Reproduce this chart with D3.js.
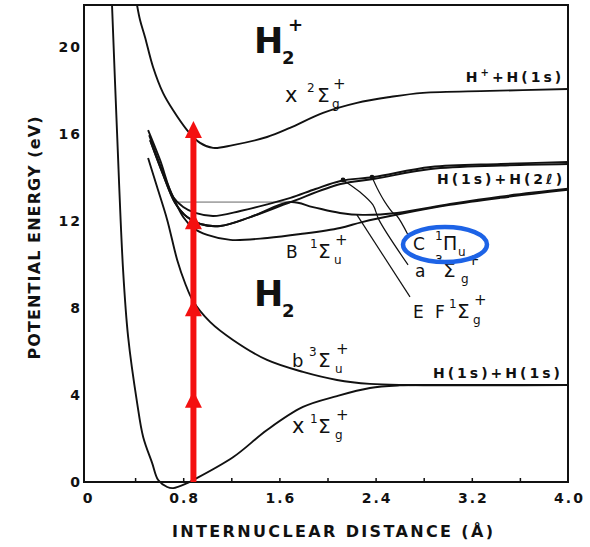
<!DOCTYPE html>
<html>
<head>
<meta charset="utf-8">
<script src="https://cdn.jsdelivr.net/npm/d3@7"></script>
<style>
body { margin: 0; background: #fff; }
text { font-family: "DejaVu Sans", "Liberation Sans", Arial, sans-serif; fill: #111; }
</style>
</head>
<body>
<div id="chart"></div>
<script>
// Potential curves, [R (Å), E (eV)]
var groundX = [[0.208,21.93],[0.25,16.05],[0.30,9.75],[0.342,6.67],[0.417,3.63],[0.467,2.07],[0.542,0.87],
    [0.592,0.09],[0.667,-0.23],[0.717,-0.28],[0.833,-0.05],[0.883,0.09],[1.217,1.15],[1.497,2.39],
    [1.796,3.45],[2.079,3.95],[2.353,4.32],[2.6,4.44],[2.8,4.46],[4.0,4.46]];
var tripletB = [[0.508,14.90],[0.583,13.56],[0.667,12.05],[0.75,10.21],[0.815,9.15],[0.882,8.32],[1.023,7.36],
    [1.214,6.53],[1.497,5.61],[1.796,5.06],[2.079,4.69],[2.353,4.51],[2.66,4.46],[4.0,4.46]];
var ionX = [[0.416,21.93],[0.441,21.24],[0.482,20.46],[0.549,19.08],[0.632,17.89],[0.715,17.10],[0.832,16.18],
    [0.940,15.59],[1.048,15.36],[1.214,15.49],[1.497,15.86],[1.688,16.28],[1.963,16.97],[2.245,17.43],
    [2.52,17.70],[2.794,17.89],[3.351,17.98],[4.0,18.07]];
var singletB = [[0.517,15.95],[0.608,14.57],[0.708,13.20],[0.80,12.18],[0.883,11.68],[1.0,11.36],[1.192,11.13],
    [1.5,11.22],[1.775,11.40],[2.104,11.68],[2.287,11.95],[2.603,12.32],[3.019,12.74],[3.434,13.06],[4.0,13.43]];
var stateC = [[0.508,16.18],[0.608,14.80],[0.717,13.10],[0.80,12.64],[0.90,12.37],[1.05,12.23],[1.275,12.46],
    [1.483,12.74],[1.692,13.06],[1.90,13.47],[2.108,13.84],[2.383,14.02],[2.858,14.48],[3.442,14.62],[4.0,14.71]];
var stateA = [[0.525,15.72],[0.625,14.25],[0.733,12.83],[0.833,12.18],[0.942,11.86],[1.108,11.77],[1.358,12.18],
    [1.692,12.87],[2.108,13.70],[2.383,13.93],[2.858,14.39],[3.442,14.55],[4.0,14.62]];
var stateEF = [[0.525,15.72],[0.625,14.25],[0.733,12.83],[0.833,12.18],[0.942,11.86],[1.108,11.77],[1.358,12.18],
    [1.692,12.87],[1.879,12.64],[2.104,12.37],[2.295,12.28],[2.578,12.37],[3.019,12.78],[3.434,13.12],[4.0,13.48]];
var levelLine = [[0.733,12.87],[1.717,12.87]];

// label leader lines
var leaderA = [[2.129,13.89],[2.270,13.33],[2.378,12.74],[2.428,12.05],[2.670,9.98]];
var leaderC = [[2.370,14.02],[2.412,13.52],[2.478,12.87],[2.545,12.37],[2.578,12.23],[2.670,11.36]];
var leaderEF = [[2.245,12.28],[2.686,8.51]];

// red excitation arrow
var arrowR = 0.885;
var arrowTips = [4.2, 8.4, 12.4, 16.6];

var xTicks = [0, 0.8, 1.6, 2.4, 3.2, 4.0];
var xMinor = [0.4, 0.8, 1.2, 1.6, 2.0, 2.4, 2.8, 3.2, 3.6];
var yTicks = [0, 4, 8, 12, 16, 20];

var width = 590, height = 547;

var x = d3.scaleLinear().domain([-0.025, 4.0]).range([84, 568]);
var y = d3.scaleLinear().domain([0, 21.93]).range([482, 5]);

var svg = d3.select('#chart').append('svg')
    .attr('width', width)
    .attr('height', height);

// the ground-state well dips a little under the axis, so the clip goes lower
svg.append('clipPath').attr('id', 'plot')
    .append('rect')
    .attr('x', x(-0.025)).attr('y', y(21.93))
    .attr('width', x(4.0) - x(-0.025)).attr('height', y(-0.6) - y(21.93));

var line = d3.line()
    .x(function (d) { return x(d[0]); })
    .y(function (d) { return y(d[1]); })
    .curve(d3.curveCatmullRom.alpha(0.5));

var g = svg.append('g').attr('clip-path', 'url(#plot)');

// thin reference level
g.append('path').attr('d', line(levelLine))
    .attr('fill', 'none').attr('stroke', '#666').attr('stroke-width', 1);

[groundX, tripletB, ionX, singletB, stateC, stateA, stateEF].forEach(function (c) {
    g.append('path').attr('d', line(c))
        .attr('fill', 'none').attr('stroke', '#111').attr('stroke-width', 1.9);
});

[leaderA, leaderC, leaderEF].forEach(function (c) {
    g.append('path').attr('d', line(c))
        .attr('fill', 'none').attr('stroke', '#111').attr('stroke-width', 1.2);
});
g.selectAll('circle.knot')
    .data([leaderA[0], leaderC[0]])
    .enter().append('circle')
    .attr('cx', function (d) { return x(d[0]); })
    .attr('cy', function (d) { return y(d[1]); })
    .attr('r', 2.4).attr('fill', '#111');

// frame
svg.append('rect')
    .attr('x', x(-0.025)).attr('y', y(21.93))
    .attr('width', x(4.0) - x(-0.025)).attr('height', y(0) - y(21.93))
    .attr('fill', 'none').attr('stroke', '#111').attr('stroke-width', 2);

// axes
var xAxis = svg.append('g')
    .attr('transform', 'translate(0,' + y(0) + ')')
    .call(d3.axisBottom(x).tickValues(xTicks).tickSize(0).tickPadding(11)
        .tickFormat(function (d) { return d === 0 ? '0' : d3.format('.1f')(d); }));
svg.append('g')
    .attr('transform', 'translate(0,' + y(0) + ')')
    .call(d3.axisBottom(x).tickValues(xMinor).tickSizeInner(-4).tickSizeOuter(0).tickFormat(''))
    .call(function (a) { a.select('.domain').remove(); a.selectAll('line').attr('stroke', '#111').attr('stroke-width', 1.5); });
var yAxis = svg.append('g')
    .attr('transform', 'translate(' + x(-0.025) + ',0)')
    .call(d3.axisLeft(y).tickValues(yTicks).tickSize(0).tickPadding(2));

[xAxis, yAxis].forEach(function (a) {
    a.select('.domain').remove();
    a.selectAll('text')
        .style('font-family', '"DejaVu Sans", sans-serif')
        .style('font-weight', 'bold')
        .style('font-size', '14px')
        .style('letter-spacing', '2px')
        .attr('fill', '#111');
});
xAxis.selectAll('text').attr('dx', 1);

svg.append('text')
    .attr('x', 172).attr('y', 537)
    .attr('textLength', 321).attr('lengthAdjust', 'spacing')
    .style('font-size', '16px').style('font-weight', 'bold')
    .text('INTERNUCLEAR DISTANCE (Å)');

svg.append('text')
    .attr('transform', 'translate(40,238) rotate(-90)')
    .attr('text-anchor', 'middle')
    .attr('textLength', 243).attr('lengthAdjust', 'spacing')
    .style('font-size', '16px').style('font-weight', 'bold')
    .text('POTENTIAL ENERGY (eV)');

// red arrow
var arrowColor = '#f41010';
var ax = x(arrowR);
svg.append('line')
    .attr('x1', ax).attr('x2', ax)
    .attr('y1', y(0)).attr('y2', y(d3.max(arrowTips)) + 10)
    .attr('stroke', arrowColor).attr('stroke-width', 6);
svg.selectAll('path.head')
    .data(arrowTips)
    .enter().append('path')
    .attr('d', function (d) {
        var ty = y(d);
        return 'M' + ax + ',' + ty + 'L' + (ax - 8.5) + ',' + (ty + 17) + 'L' + (ax + 8.5) + ',' + (ty + 17) + 'Z';
    })
    .attr('fill', arrowColor);

// molecule labels
function bigLabel(R, E, sup) {
    var px = x(R), py = y(E);
    svg.append('text').attr('x', px).attr('y', py)
        .style('font-size', '35px').style('font-weight', 'bold').text('H');
    svg.append('text').attr('x', px + 28).attr('y', py + 11)
        .style('font-size', '18px').style('font-weight', 'bold').text('2');
    if (sup) {
        svg.append('text').attr('x', px + 34).attr('y', py - 22)
            .style('font-size', '18px').style('font-weight', 'bold').text('+');
    }
}
bigLabel(1.389, 19.72, true);
bigLabel(1.389, 8.09, false);

// term symbols: [text, dx, dy, font size]
var terms = [
    {at: [1.647, 17.47], parts: [['x', 0, 0, 21], ['2', 22, -10, 12], ['Σ', 32, 0, 20], ['g', 47, 6, 12], ['+', 48, -13, 15]]},
    {at: [1.655, 10.30], parts: [['B', 0, 0, 17], ['1', 24, -10, 12], ['Σ', 32, 0, 20], ['u', 48, 6, 12], ['+', 49, -13, 15]]},
    {at: [2.711, 10.67], parts: [['C', 0, 0, 17], ['1', 22, -10, 12], ['Π', 30, 0, 19], ['u', 45, 6, 12]]},
    {at: [2.728, 9.43], parts: [['a', 0, 0, 17], ['3', 20, -13, 12], ['Σ', 28, 0, 20], ['g', 46, 6, 12], ['+', 52, -12, 15]]},
    {at: [2.711, 7.54], parts: [['E', 0, 0, 17], ['F', 22, 0, 17], ['1', 36, -10, 12], ['Σ', 44, 0, 20], ['g', 60, 6, 12], ['+', 61, -13, 15]]},
    {at: [1.705, 5.29], parts: [['b', 0, 0, 18], ['3', 17, -11, 12], ['Σ', 26, 0, 20], ['u', 43, 6, 12], ['+', 44, -13, 15]]},
    {at: [1.705, 2.25], parts: [['x', 0, 0, 21], ['1', 18, -10, 12], ['Σ', 26, 0, 20], ['g', 43, 6, 12], ['+', 44, -13, 15]]}
];
terms.forEach(function (t) {
    var px = x(t.at[0]), py = y(t.at[1]);
    t.parts.forEach(function (p) {
        svg.append('text').attr('x', px + p[1]).attr('y', py + p[2])
            .style('font-size', p[3] + 'px').text(p[0]);
    });
});

// C state highlight
svg.append('ellipse')
    .attr('cx', x(2.977)).attr('cy', y(10.92))
    .attr('rx', 42).attr('ry', 17.5)
    .attr('fill', 'none').attr('stroke', '#1d63e6').attr('stroke-width', 4.5);

// dissociation limits
function limitLabel(R, E, parts) {
    var t = svg.append('text').attr('x', x(R)).attr('y', y(E))
        .style('font-size', '14px').style('font-weight', 'bold').style('letter-spacing', '3px');
    parts.forEach(function (p) {
        t.append('tspan').attr('dy', p[1]).style('font-size', p[2] + 'px').text(p[0]);
    });
}
limitLabel(3.15, 18.39, [['H', 0, 14], ['+', -6, 10], ['+H(1s)', 6, 14]]);
limitLabel(2.91, 13.70, [['H(1s)+H(2ℓ)', 0, 14]]);
limitLabel(2.877, 4.78, [['H(1s)+H(1s)', 0, 14]]);
</script>
</body>
</html>
